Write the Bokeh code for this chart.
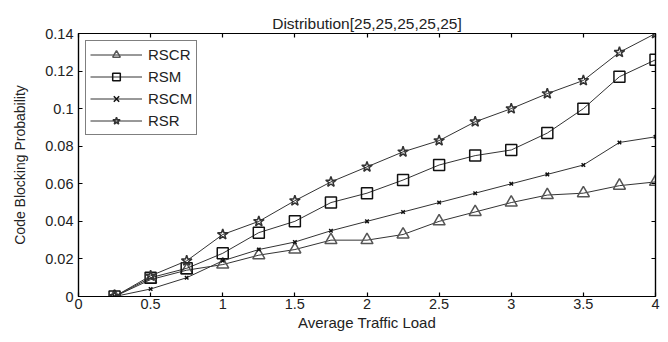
from bokeh.plotting import figure
from bokeh.models import Range1d, LinearAxis, FixedTicker, CustomJSTickFormatter, Legend, LegendItem
from bokeh.embed import file_html
from bokeh.resources import INLINE

# ---- data ----
load = [0.25, 0.5, 0.75, 1.0, 1.25, 1.5, 1.75, 2.0, 2.25, 2.5, 2.75, 3.0, 3.25, 3.5, 3.75, 4.0]
rscr = [0, 0.009, 0.014, 0.017, 0.022, 0.025, 0.030, 0.030, 0.033, 0.040, 0.045, 0.050, 0.054, 0.055, 0.059, 0.061]
rsm = [0, 0.010, 0.015, 0.023, 0.034, 0.040, 0.050, 0.055, 0.062, 0.070, 0.075, 0.078, 0.087, 0.100, 0.117, 0.126]
rscm = [0, 0.004, 0.010, 0.019, 0.025, 0.029, 0.035, 0.040, 0.045, 0.050, 0.055, 0.060, 0.065, 0.070, 0.082, 0.085]
rsr = [0, 0.011, 0.019, 0.033, 0.040, 0.051, 0.061, 0.069, 0.077, 0.083, 0.093, 0.100, 0.108, 0.115, 0.130, 0.140]

x_ticks = [0, 0.5, 1, 1.5, 2, 2.5, 3, 3.5, 4]
x_tick_labels = ["0", "0.5", "1", "1.5", "2", "2.5", "3", "3.5", "4"]
y_ticks = [0, 0.02, 0.04, 0.06, 0.08, 0.1, 0.12, 0.14]
y_tick_labels = ["0", "0.02", "0.04", "0.06", "0.08", "0.1", "0.12", "0.14"]

title_text = "Distribution[25,25,25,25,25]"
x_label = "Average Traffic Load"
y_label = "Code Blocking Probability"

FONT = "Liberation Sans"

p = figure(width=668, height=342, output_backend="svg", toolbar_location=None,
           x_range=Range1d(0, 4), y_range=Range1d(0, 0.14),
           min_border_left=78, min_border_right=13, min_border_top=33, min_border_bottom=46)
p.title.text = title_text
p.title.align = "center"
p.title.text_font = FONT
p.title.text_font_style = "normal"
p.title.text_font_size = "15.5px"
p.title.text_color = "#222222"
p.title.offset = 0
p.title.standoff = 4

p.xgrid.visible = False
p.ygrid.visible = False
p.outline_line_color = "black"
p.outline_line_width = 1.2
p.background_fill_color = "white"
p.border_fill_color = "white"

p.xaxis.ticker = FixedTicker(ticks=x_ticks)
p.xaxis.major_label_overrides = {t: l for t, l in zip(x_ticks, x_tick_labels)}
p.yaxis.ticker = FixedTicker(ticks=y_ticks)
p.yaxis.major_label_overrides = {t: l for t, l in zip(y_ticks, y_tick_labels)}
p.xaxis.axis_label = x_label
p.yaxis.axis_label = y_label

for ax in [p.xaxis[0], p.yaxis[0]]:
    ax.major_tick_in = 4
    ax.major_tick_out = 0
    ax.minor_tick_in = 0
    ax.minor_tick_out = 0
    ax.axis_line_color = "black"
    ax.axis_line_width = 1.2
    ax.major_tick_line_width = 1.2
    ax.major_label_text_font = FONT
    ax.major_label_text_font_size = "14.5px"
    ax.major_label_text_color = "#222222"
    ax.axis_label_text_font = FONT
    ax.axis_label_text_font_style = "normal"
    ax.axis_label_text_color = "#222222"
p.xaxis.major_label_standoff = 2
p.yaxis.major_label_standoff = 5
p.xaxis.axis_label_text_font_size = "15px"
p.xaxis.axis_label_standoff = 2
p.yaxis.axis_label_text_font_size = "14px"
p.yaxis.axis_label_standoff = 14

# top and right axes with inward ticks, no labels
empty = CustomJSTickFormatter(code="return ''")
top = LinearAxis(ticker=FixedTicker(ticks=x_ticks), formatter=empty)
right = LinearAxis(ticker=FixedTicker(ticks=y_ticks), formatter=empty)
for ax in [top, right]:
    ax.major_tick_in = 4
    ax.major_tick_out = 0
    ax.minor_tick_in = 0
    ax.minor_tick_out = 0
    ax.major_label_standoff = 0
    ax.major_label_text_font_size = "1px"
    ax.axis_line_width = 1.2
    ax.major_tick_line_width = 1.2
p.add_layout(top, "above")
p.add_layout(right, "right")

LC = "#333333"
series = [
    ("RSCR", rscr, "triangle", 12, "#555555"),
    ("RSM", rsm, "square", 11, "#111111"),
    ("RSCM", rscm, "x", 5, "#111111"),
    ("RSR", rsr, "star", 11, "#333333"),
]
items = []
for name, ys, marker, size, mc in series:
    l = p.line(load, ys, line_color=LC, line_width=1)
    s = p.scatter(load, ys, marker=marker, size=size, fill_color="white", fill_alpha=0,
                  line_color=mc, line_width=1.5)
    items.append(LegendItem(label=name, renderers=[l, s]))

legend = Legend(items=items, location="top_left")
legend.border_line_color = "black"
legend.border_line_width = 1.5
legend.background_fill_color = "white"
legend.background_fill_alpha = 1
legend.label_text_font = FONT
legend.label_text_font_size = "15px"
legend.label_text_color = "#222222"
legend.glyph_width = 52
legend.glyph_height = 19
legend.spacing = 3
legend.padding = 4
legend.margin = 7
legend.label_standoff = 6
p.add_layout(legend, "center")

open("out.html", "w").write(file_html(p, INLINE))
